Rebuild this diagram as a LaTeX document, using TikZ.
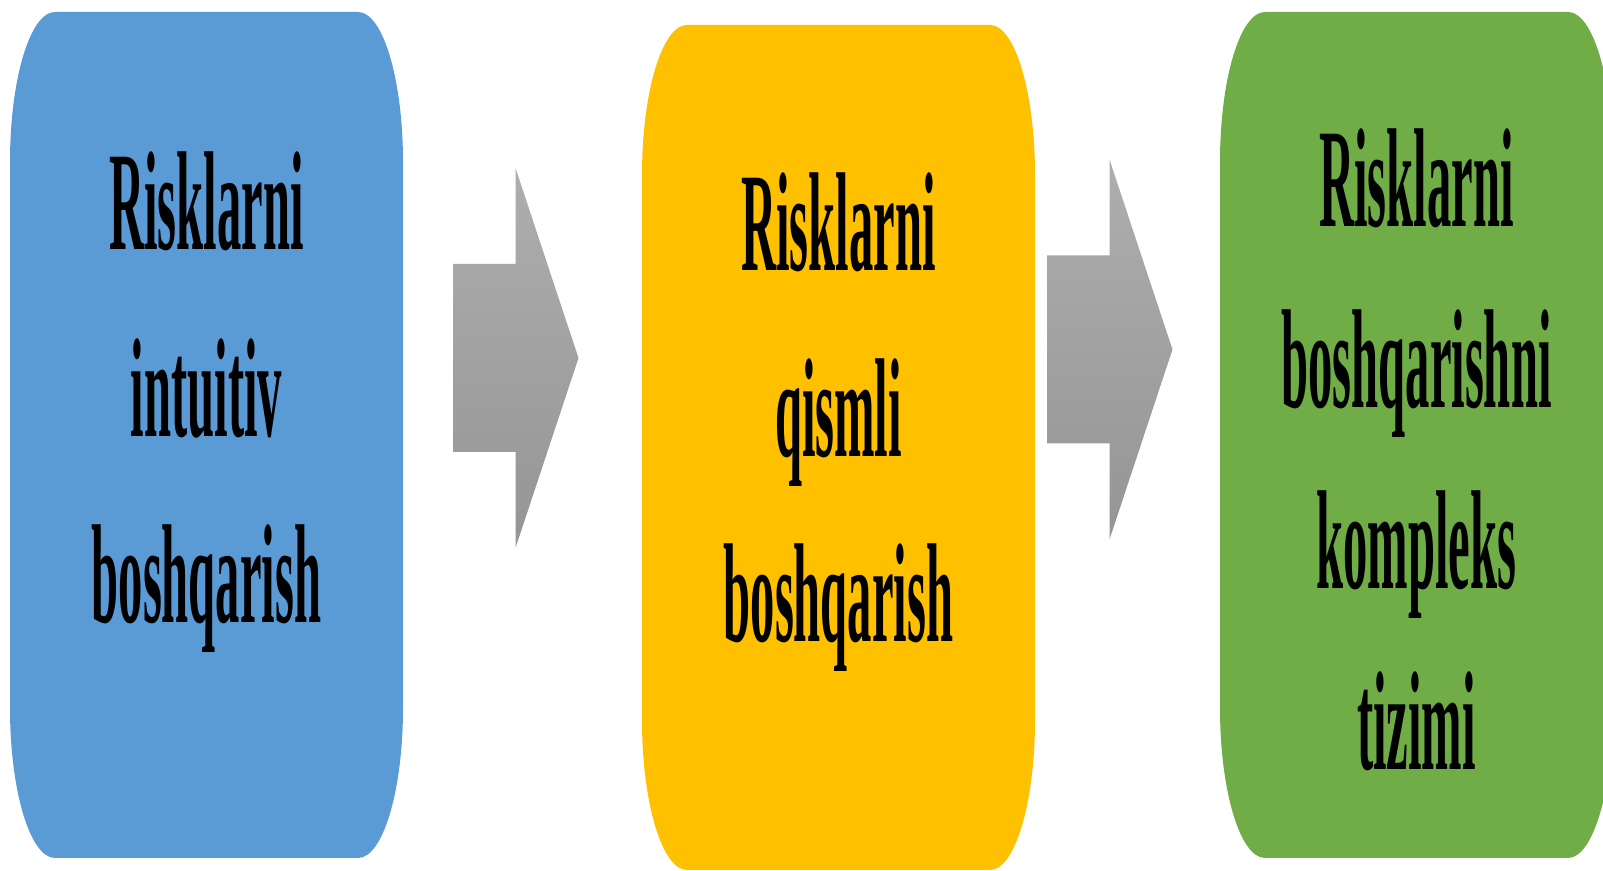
\documentclass[tikz,border=0pt]{standalone}
\usepackage{fontspec}
\setmainfont{Liberation Serif}

\definecolor{kok}{HTML}{5B9BD5}
\definecolor{sariq}{HTML}{FFC000}
\definecolor{yashil}{HTML}{70AD47}
\definecolor{kulrangA}{HTML}{AEAEAE}
\definecolor{kulrangB}{HTML}{959595}

% tall narrow bold text
\newcommand{\baland}[1]{\scalebox{1}[2.9]{\fontsize{24.3pt}{24.3pt}\selectfont\bfseries #1}}
% box: left, bottom, right, top, colour
\newcommand{\blok}[5]{%
  \fill[#5] (#1+45,#4) -- (#3-45,#4)
    arc[start angle=90, end angle=0, x radius=22.5pt, y radius=75pt] -- (#3,#2+150)
    arc[start angle=0, end angle=-90, x radius=22.5pt, y radius=75pt] -- (#1+45,#2)
    arc[start angle=270, end angle=180, x radius=22.5pt, y radius=75pt] -- (#1,#4-150)
    arc[start angle=180, end angle=90, x radius=22.5pt, y radius=75pt] -- cycle;}

\begin{document}
\begin{tikzpicture}[x=0.5pt,y=0.5pt]
  \tikzstyle{satr}=[inner sep=0, anchor=base];
  \tikzstyle{strelka}=[top color=kulrangA, bottom color=kulrangB, draw=none];

  \useasboundingbox (0,0) rectangle (1603,871);
  \clip (0,0) rectangle (1603,871);

  \blok{10}{13}{403}{859}{kok}
  \blok{642}{1}{1035}{846}{sariq}
  \blok{1220}{13}{1613}{859}{yashil}

  \coordinate (S1) at (453,513);
  \coordinate (S2) at (1047,521.5);
  \begin{scope}[shift={(S1)}]
    \shade[strelka] (0,-94) -- (62.5,-94) -- (62.5,-190) -- (125.5,0) -- (62.5,190) -- (62.5,94) -- (0,94) -- cycle;
  \end{scope}
  \begin{scope}[shift={(S2)}]
    \shade[strelka] (0,-94) -- (62.5,-94) -- (62.5,-190) -- (125.5,0) -- (62.5,190) -- (62.5,94) -- (0,94) -- cycle;
  \end{scope}

  \node[satr] (k1) at (206.5,621) {\baland{Risklarni}};
  \node[satr] (k2) at (206.5,434) {\baland{intuitiv}};
  \node[satr] (k3) at (206.5,248) {\baland{boshqarish}};

  \node[satr] (s1) at (838.5,600) {\baland{Risklarni}};
  \node[satr] (s2) at (838.5,414.5) {\baland{qismli}};
  \node[satr] (s3) at (838.5,229) {\baland{boshqarish}};

  \node[satr] (y1) at (1416.5,644) {\baland{Risklarni}};
  \node[satr] (y2) at (1416.5,463) {\baland{boshqarishni}};
  \node[satr] (y3) at (1416.5,282) {\baland{kompleks}};
  \node[satr] (y4) at (1416.5,101) {\baland{tizimi}};
\end{tikzpicture}
\end{document}
